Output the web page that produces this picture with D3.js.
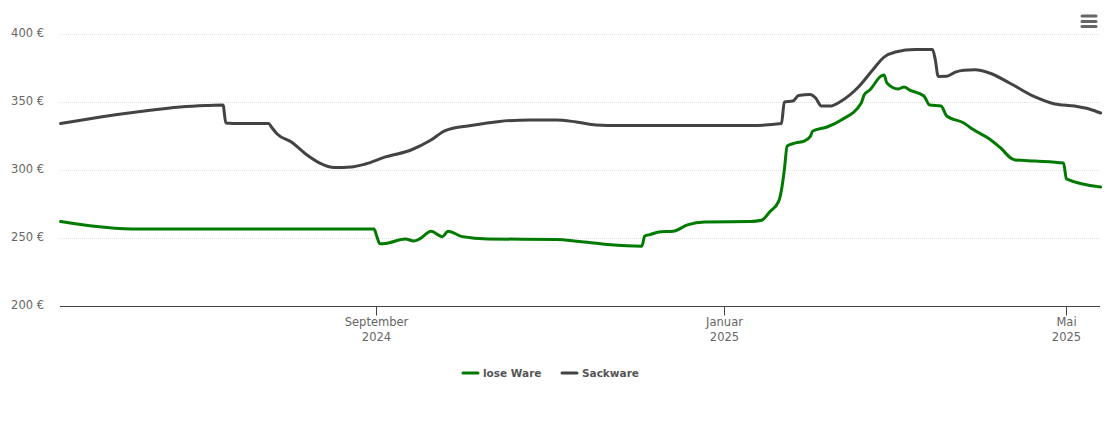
<!DOCTYPE html>
<html>
<head>
<meta charset="utf-8">
<script src="https://cdn.jsdelivr.net/npm/d3@7"></script>
<style>
html, body { margin: 0; padding: 0; background: #fff; }
text { font-family: "DejaVu Sans", sans-serif; }
</style>
</head>
<body>
<svg id="chart"></svg>
<script>
'use strict';

var lose_dates = ['2024-05-13', '2024-05-24', '2024-06-07', '2024-07-01', '2024-08-31', '2024-09-01', '2024-09-02', '2024-09-04', '2024-09-11', '2024-09-14', '2024-09-16', '2024-09-20', '2024-09-24', '2024-09-26', '2024-10-01', '2024-10-10', '2024-11-03', '2024-11-11', '2024-11-21', '2024-12-03', '2024-12-04', '2024-12-06', '2024-12-09', '2024-12-14', '2024-12-19', '2024-12-25', '2025-01-10', '2025-01-14', '2025-01-17', '2025-01-20', '2025-01-21', '2025-01-22', '2025-01-23', '2025-01-26', '2025-01-29', '2025-01-31', '2025-02-01', '2025-02-06', '2025-02-11', '2025-02-18', '2025-02-19', '2025-02-21', '2025-02-25', '2025-02-26', '2025-02-27', '2025-03-03', '2025-03-05', '2025-03-07', '2025-03-12', '2025-03-14', '2025-03-18', '2025-03-20', '2025-03-26', '2025-03-29', '2025-04-04', '2025-04-08', '2025-04-12', '2025-04-13', '2025-04-20', '2025-04-30', '2025-05-01', '2025-05-13'];
var lose_values = [262.1, 258.8, 256.6, 256.6, 256.6, 251, 245.8, 246, 249.3, 247.8, 249.3, 255, 251, 255, 251, 249.3, 248.9, 247.4, 245.2, 244, 251.5, 252.6, 254.4, 255, 259.6, 261.8, 262.1, 263, 269.5, 276.9, 285.3, 300, 317.6, 319.9, 321.3, 324.3, 328.7, 331.6, 336.8, 349.3, 355.1, 358.8, 369.1, 369.9, 364, 359.6, 361, 358.8, 354.4, 347.8, 347, 339.7, 334.6, 330.1, 322.8, 316, 308.1, 307.4, 306.6, 305.1, 293.4, 287.5];

var sack_dates = ['2024-05-13', '2024-05-27', '2024-06-10', '2024-06-24', '2024-07-03', '2024-07-09', '2024-07-10', '2024-07-15', '2024-07-25', '2024-07-26', '2024-07-28', '2024-08-02', '2024-08-07', '2024-08-12', '2024-08-17', '2024-08-23', '2024-08-28', '2024-09-04', '2024-09-13', '2024-09-20', '2024-09-25', '2024-10-04', '2024-10-14', '2024-10-25', '2024-11-03', '2024-11-10', '2024-11-17', '2024-11-25', '2024-12-24', '2025-01-10', '2025-01-21', '2025-01-22', '2025-01-25', '2025-01-27', '2025-01-31', '2025-02-02', '2025-02-04', '2025-02-07', '2025-02-11', '2025-02-17', '2025-02-22', '2025-02-26', '2025-03-02', '2025-03-09', '2025-03-15', '2025-03-16', '2025-03-17', '2025-03-20', '2025-03-23', '2025-03-26', '2025-03-30', '2025-04-04', '2025-04-11', '2025-04-20', '2025-04-27', '2025-05-04', '2025-05-09', '2025-05-13'];
var sack_values = [334.2, 339, 343, 346.3, 347.4, 347.8, 334.6, 334.2, 334.2, 331.6, 326.5, 320.6, 311.8, 305.1, 301.8, 302.2, 304.4, 309.6, 314.7, 322, 329, 332.7, 335.7, 336.8, 336.8, 335.3, 333.1, 332.7, 332.7, 332.7, 334.2, 350, 350.7, 354.8, 355.5, 352.9, 347, 347, 350.7, 361, 373.5, 383, 386.8, 388.6, 388.6, 380.9, 368.8, 368.9, 372, 373.4, 373.7, 371.3, 364, 353.7, 348.5, 347, 344.9, 341.9];

var y_ticks = [200, 250, 300, 350, 400];
var x_tick_dates = ['2024-09-01', '2025-01-01', '2025-05-01'];
var x_tick_months = ['September', 'Januar', 'Mai'];
var x_tick_years = ['2024', '2025', '2025'];
var series_names = ['lose Ware', 'Sackware'];
var series_colors = ['#007a00', '#434343'];

var width = 1110;
var height = 423;
var parse_date = d3.utcParse('%Y-%m-%d');

var svg = d3.select('#chart').attr('width', width).attr('height', height).style('display', 'block');

var x = d3.scaleUtc().domain([parse_date('2024-05-13'), parse_date('2025-05-13')]).range([60.6, 1100.6]);
var y = d3.scaleLinear().domain([200, 400]).range([306, 34]);

// grid
svg.selectAll('.grid').data(y_ticks.slice(1)).enter().append('line').attr('class', 'grid')
    .attr('x1', 60).attr('x2', 1100)
    .attr('y1', function (d) { return y(d) + 0.5; }).attr('y2', function (d) { return y(d) + 0.5; })
    .attr('stroke', '#e0e0e0').attr('stroke-width', 1).attr('stroke-dasharray', '1,1');

// y axis
var y_axis = svg.append('g').attr('transform', 'translate(44,0)')
    .call(d3.axisLeft(y).tickValues(y_ticks).tickSize(0).tickPadding(0).offset(0).tickFormat(function (d) { return d + ' €'; }));
y_axis.select('.domain').remove();
y_axis.selectAll('text').attr('dy', '0.28em').style('font-size', '11.5px').attr('fill', '#666');

// x axis
var tick_dates = x_tick_dates.map(parse_date);
var x_axis = svg.append('g').attr('transform', 'translate(0,306.5)')
    .call(d3.axisBottom(x).tickValues(tick_dates).tickSize(9).tickSizeOuter(0).offset(0).tickFormat(function () { return ''; }));
x_axis.select('.domain').attr('d', 'M60,0H1100').attr('stroke', '#444');
x_axis.selectAll('.tick').attr('transform', function (d) { return 'translate(' + (Math.floor(x(d)) + 0.5) + ',0)'; });
x_axis.selectAll('.tick line').attr('stroke', '#444');
x_axis.selectAll('.tick text').each(function (d, i) {
    var label = d3.select(this).attr('y', 11.8).attr('fill', '#666').style('font-size', '11.5px');
    label.append('tspan').attr('x', 0).text(x_tick_months[i]);
    label.append('tspan').attr('x', 0).attr('dy', 14.5).text(x_tick_years[i]);
});

// lines
var line = d3.line()
    .x(function (d) { return x(d.date); })
    .y(function (d) { return y(d.value); })
    .curve(d3.curveMonotoneX);

var series = [
    lose_dates.map(function (d, i) { return { date: parse_date(d), value: lose_values[i] }; }),
    sack_dates.map(function (d, i) { return { date: parse_date(d), value: sack_values[i] }; })
];

svg.selectAll('.series').data(series).enter().append('path').attr('class', 'series')
    .attr('d', line).attr('fill', 'none')
    .attr('stroke', function (d, i) { return series_colors[i]; })
    .attr('stroke-width', 3).attr('stroke-linejoin', 'round').attr('stroke-linecap', 'round');

// legend
var legend_x = [463, 562];
var legend = svg.selectAll('.legend').data(series_names).enter().append('g').attr('class', 'legend')
    .attr('transform', function (d, i) { return 'translate(' + legend_x[i] + ',373)'; });
legend.append('line').attr('x1', 0).attr('x2', 15).attr('y1', 0).attr('y2', 0)
    .attr('stroke', function (d, i) { return series_colors[i]; }).attr('stroke-width', 3).attr('stroke-linecap', 'round');
legend.append('text').attr('x', 20).attr('y', 4).style('font-size', '10.5px').style('font-weight', 'bold').attr('fill', '#555')
    .text(function (d) { return d; });

// menu icon
svg.selectAll('.menu-bar').data([16, 21.5, 26.5]).enter().append('line').attr('class', 'menu-bar')
    .attr('x1', 1082).attr('x2', 1096)
    .attr('y1', function (d) { return d; }).attr('y2', function (d) { return d; })
    .attr('stroke', '#666').attr('stroke-width', 3).attr('stroke-linecap', 'round');
</script>
</body>
</html>
